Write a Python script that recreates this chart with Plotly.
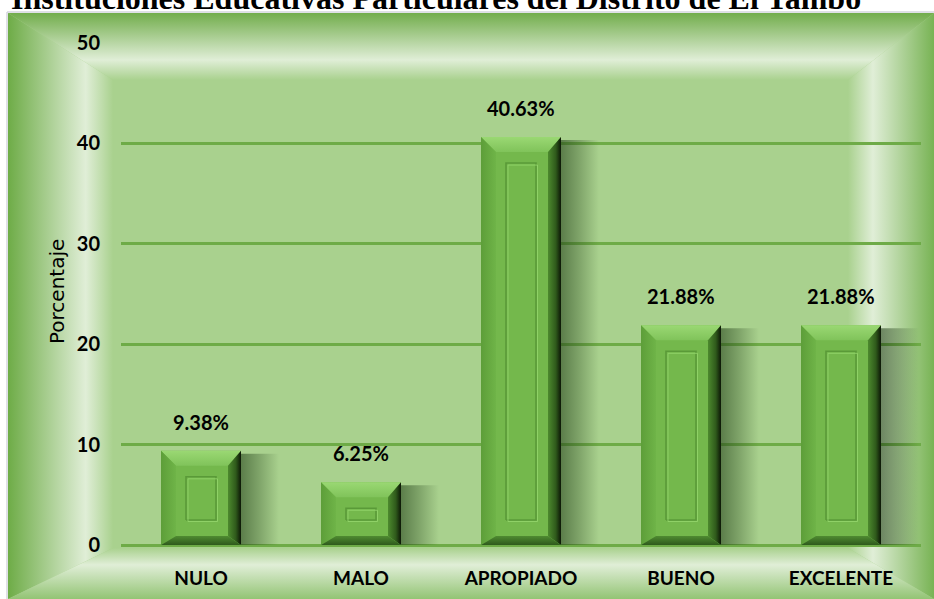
import plotly.graph_objects as go

# ---------------- data ----------------
categories = ["NULO", "MALO", "APROPIADO", "BUENO", "EXCELENTE"]
values = [9.38, 6.25, 40.63, 21.88, 21.88]
y_ticks = [0, 10, 20, 30, 40, 50]
title_text = "Instituciones Educativas Particulares del Distrito de El Tambo"
y_title = "Porcentaje"

# ---------------- geometry (pixels) ----------------
W, H = 934, 599
PX_L, PX_R = 121, 921      # plot area x
PX_T, PX_B = 43, 545       # plot area y (50 -> 0)
YMAX = 50
XR = (-0.5, len(categories) - 0.5)
dx = (XR[1] - XR[0]) / (PX_R - PX_L)   # data units per px (x)
dy = YMAX / (PX_B - PX_T)              # data units per px (y)

fig = go.Figure()

def poly(xs, ys, color=None, grad=None, xa="x", ya="y", line=None):
    kw = dict(x=xs + [xs[0]], y=ys + [ys[0]], fill="toself", xaxis=xa, yaxis=ya,
              hoverinfo="skip", showlegend=False)
    if line:
        kw["mode"] = "lines"
        kw["line"] = line
    else:
        kw["mode"] = "none"
    if grad:
        kw["fillgradient"] = grad
    else:
        kw["fillcolor"] = color
    fig.add_trace(go.Scatter(**kw))

# ---------------- frame (pixel coords, subplot xy) ----------------
DARK = "#72ad4c"
LIGHT = "#e0eed7"
INNER = "#a9d18e"
oL, oT, oR, oB = 8, 13, 934, 599
iL, iT, iR, iB = 113, 80, 848, 548
poly([oL, oR, oR, oL], [oT, oT, oB, oB], INNER)
# top
poly([oL, oR, iR, iL], [oT, oT, iT, iT], grad=dict(type="vertical", start=oT, stop=iT,
     colorscale=[[0, DARK], [0.70, LIGHT], [1, INNER]]))
# left
poly([oL, iL, iL, oL], [oT, iT, iB, oB], grad=dict(type="horizontal", start=oL, stop=iL,
     colorscale=[[0, "#6eac47"], [0.74, LIGHT], [1, INNER]]))
# right
poly([oR, oR, iR, iR], [oT, oB, iB, iT], grad=dict(type="horizontal", start=iR, stop=oR,
     colorscale=[[0, INNER], [0.29, LIGHT], [1, "#78b354"]]))
# bottom
poly([oL, oR, iR, iL], [oB, oB, iB, iB], grad=dict(type="vertical", start=iB, stop=oB,
     colorscale=[[0, INNER], [0.33, LIGHT], [1, "#93c474"]]))

# ---------------- bars (subplot x2y2) ----------------
hw = 0.25
for i, v in enumerate(values):
    R = i + hw
    # drop shadow to the right
    sw = 38 * dx
    poly([R, R + sw, R + sw, R], [0, 0, v - 3 * dy, v - 3 * dy], xa="x2", ya="y2",
         grad=dict(type="horizontal", start=R, stop=R + sw,
                   colorscale=[[0, "rgba(35,65,25,0.58)"], [0.5, "rgba(35,65,25,0.30)"],
                               [1, "rgba(35,65,25,0)"]]))

fig.add_trace(go.Bar(x=list(range(len(categories))), y=values, width=2 * hw,
                     marker=dict(color="#74b84c", line=dict(width=0)),
                     xaxis="x2", yaxis="y2", hoverinfo="skip", showlegend=False))

lb, rb, tb, bb = 15 * dx, 13 * dx, 15 * dy, 9 * dy
for i, v in enumerate(values):
    L, R, T, B = i - hw, i + hw, v, 0
    # top bevel
    poly([L, R, R - rb, L + lb], [T, T, T - tb, T - tb], xa="x2", ya="y2",
         grad=dict(type="vertical", start=T - tb, stop=T,
                   colorscale=[[0, "#80c35a"], [1, "#9ad873"]]))
    # left bevel
    poly([L, L + lb, L + lb, L], [T, T - tb, B + bb, B], xa="x2", ya="y2",
         grad=dict(type="horizontal", start=L, stop=L + lb,
                   colorscale=[[0, "#5d9e39"], [1, "#6fb448"]]))
    # right bevel
    poly([R, R, R - rb, R - rb], [T, B, B + bb, T - tb], xa="x2", ya="y2",
         grad=dict(type="horizontal", start=R - rb, stop=R,
                   colorscale=[[0, "#4d8a2e"], [0.6, "#2f5a1b"], [1, "#0c1606"]]))
    # bottom bevel
    poly([L, R, R - rb, L + lb], [B, B, B + bb, B + bb], xa="x2", ya="y2",
         grad=dict(type="vertical", start=B, stop=B + bb,
                   colorscale=[[0, "#2f5a1d"], [1, "#4f8b31"]]))
    # inner panel
    if (T - B) / dy > 55:
        x0, x1 = L + 25 * dx, R - 25 * dx
        y0, y1 = B + 25 * dy, T - 26 * dy
        poly([x0, x1, x1, x0], [y0, y0, y1, y1], "rgba(0,0,0,0)", xa="x2", ya="y2",
             line=dict(color="#5a9a38", width=1.6))
        poly([x0 + 2 * dx, x1 + 1.5 * dx, x1 + 1.5 * dx, x0 + 2 * dx],
             [y0 - 1.5 * dy, y0 - 1.5 * dy, y1 - 2 * dy, y1 - 2 * dy], "rgba(0,0,0,0)",
             xa="x2", ya="y2", line=dict(color="rgba(150,215,110,0.8)", width=1))

# value labels
for i, v in enumerate(values):
    fig.add_annotation(x=i, y=v, xref="x2", yref="y2", text=f"{v:.2f}%", showarrow=False,
                       yanchor="bottom", yshift=15,
                       font=dict(family="Lato", size=20, color="#000000", weight="bold"))

# title (partially cut at the top, as in the source image) and y-axis title
fig.add_annotation(x=436, y=18, xref="x", yref="y", text=title_text, showarrow=False,
                   xanchor="center", yanchor="bottom",
                   font=dict(family="Liberation Serif", size=32, color="#000000", weight="bold"))
fig.add_annotation(x=57, y=292, xref="x", yref="y", text=y_title, showarrow=False,
                   textangle=-90, font=dict(family="DejaVu Sans", size=20, color="#000000"))

# thin grey border lines
fig.add_shape(type="line", xref="x", yref="y", x0=7, x1=7, y0=12, y1=H, line=dict(color="#d4d6de", width=1.5))
fig.add_shape(type="line", xref="x", yref="y", x0=7, x1=W, y0=12, y1=12, line=dict(color="#d4d6de", width=1.5))

fig.update_layout(
    width=W, height=H, margin=dict(l=0, r=0, t=0, b=0, pad=0, autoexpand=False),
    paper_bgcolor="#ffffff", plot_bgcolor="rgba(0,0,0,0)", showlegend=False,
    xaxis=dict(domain=[0, 1], range=[0, W], visible=False, fixedrange=True, automargin=False),
    yaxis=dict(domain=[0, 1], range=[H, 0], visible=False, fixedrange=True, automargin=False),
    xaxis2=dict(domain=[PX_L / W, PX_R / W], range=list(XR), anchor="y2", automargin=False,
                tickvals=list(range(len(categories))), ticktext=categories,
                showgrid=False, zeroline=False, showline=False, ticks="",
                ticklabelstandoff=20, fixedrange=True,
                tickfont=dict(family="Lato", size=19, color="#000000", weight="bold")),
    yaxis2=dict(domain=[1 - PX_B / H, 1 - PX_T / H], range=[0, YMAX], anchor="x2", automargin=False,
                tickvals=y_ticks, showgrid=True, gridcolor="#6eab47", gridwidth=2.5,
                zeroline=True, zerolinecolor="#6eab47", zerolinewidth=2.5,
                showline=False, ticks="", ticklabelstandoff=20, fixedrange=True,
                tickfont=dict(family="Lato", size=20, color="#000000", weight="bold")),
    bargap=0.5,
)

fig.write_html("out.html", config={"displayModeBar": False},
               post_script="document.body.style.margin='0';document.body.style.padding='0';"
                           "document.body.style.overflow='hidden';")
